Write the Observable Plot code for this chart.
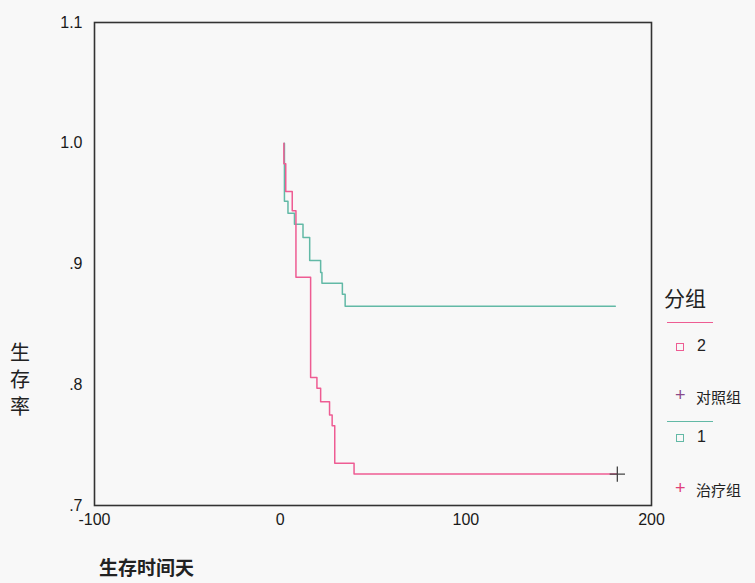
<!DOCTYPE html>
<html><head><meta charset="utf-8">
<script src="https://cdn.jsdelivr.net/npm/d3@7"></script>
<script src="https://cdn.jsdelivr.net/npm/@observablehq/plot@0.6"></script>
<style>
html,body{margin:0;padding:0;background:#f8f8f8;}
#wrap{position:relative;width:755px;height:583px;overflow:hidden;font-family:"Liberation Sans",Arial,sans-serif;}
.abs{position:absolute;white-space:nowrap;color:#222;}
.cjk{font-family:"Noto Sans CJK SC",sans-serif;}
</style></head>
<body><div id="wrap"></div>
<script>
// Group 2 (对照组) Kaplan-Meier steps
const g2Time = [2, 2, 3, 6.5, 8.5, 16.4, 19.8, 21.8, 26.6, 28, 29.4, 39.8, 181.6];
const g2Surv = [1.0, 0.983, 0.96, 0.944, 0.889, 0.806, 0.797, 0.786, 0.775, 0.766, 0.735, 0.726, 0.726];
// Group 1 (治疗组)
const g1Time = [2.3, 2.3, 4.2, 7.7, 12.3, 15.9, 21.8, 22.5, 33.5, 35, 180.5];
const g1Surv = [1.0, 0.952, 0.942, 0.933, 0.922, 0.903, 0.893, 0.884, 0.875, 0.865, 0.865];
// censored marks
const censTime = [181.6];
const censSurv = [0.726];
const xTicks = [-100, 0, 100, 200];
const yTicks = [0.7, 0.8, 0.9, 1.0, 1.1];
const yTickLabels = [".7", ".8", ".9", "1.0", "1.1"];
const colors = {"2": "#ee5c93", "1": "#62b9a6"};

const g2 = g2Time.map((t, i) => ({t, s: g2Surv[i]}));
const g1 = g1Time.map((t, i) => ({t, s: g1Surv[i]}));
const cens = censTime.map((t, i) => ({t, s: censSurv[i]}));

const chart = Plot.plot({
  width: 755, height: 583,
  marginLeft: 94, marginRight: 104, marginTop: 22, marginBottom: 78,
  style: {background: "transparent", fontFamily: "Liberation Sans, Arial, sans-serif", fontSize: "15px", color: "#1a1a1a"},
  x: {domain: [-100, 200]},
  y: {domain: [0.7, 1.1]},
  marks: [
    Plot.axisX({ticks: xTicks, tickSize: 0, tickPadding: 8, label: null, tickFormat: d => String(d), fontSize: 16}),
    Plot.axisY({ticks: yTicks, tickSize: 0, tickPadding: 12, label: null, tickFormat: d => yTickLabels[yTicks.indexOf(d)], fontSize: 16}),
    Plot.line(g1, {x: "t", y: "s", curve: "step-after", stroke: colors["1"], strokeWidth: 1.5}),
    Plot.line(g2, {x: "t", y: "s", curve: "step-after", stroke: colors["2"], strokeWidth: 1.5}),
    Plot.dot(cens, {x: "t", y: "s", symbol: "plus", r: 5, stroke: "#444", strokeWidth: 1.3}),
    Plot.frame({stroke: "#333", strokeWidth: 1.6})
  ]
});
const wrap = document.getElementById("wrap");
wrap.appendChild(chart);

function add(html, css, cls) {
  const d = document.createElement("div");
  d.className = "abs " + (cls || "");
  d.innerHTML = html;
  Object.assign(d.style, css);
  wrap.appendChild(d);
}
// y label, vertical stacked characters
add("生<br>存<br>率", {left: "10px", top: "338px", fontSize: "20px", lineHeight: "27px"}, "cjk");
// x label
add("生存时间天", {left: "99px", top: "555px", fontSize: "19px", lineHeight: "24px", fontWeight: "bold"}, "cjk");
// legend
add("分组", {left: "664px", top: "282px", fontSize: "21px"}, "cjk");
add("", {left: "667px", top: "322px", width: "46px", height: "0", borderTop: "1.5px solid " + colors["2"]});
add("", {left: "676px", top: "343px", width: "6px", height: "6px", border: "1.3px solid " + colors["2"]});
add("2", {left: "697px", top: "337px", fontSize: "16px"});
add("+", {left: "675px", top: "385px", fontSize: "18px", color: "#8a4a8a"});
add("对照组", {left: "696px", top: "386px", fontSize: "15px"}, "cjk");
add("", {left: "667px", top: "421px", width: "46px", height: "0", borderTop: "1.5px solid " + colors["1"]});
add("", {left: "676px", top: "434px", width: "6px", height: "6px", border: "1.3px solid " + colors["1"]});
add("1", {left: "697px", top: "428px", fontSize: "16px"});
add("+", {left: "675px", top: "478px", fontSize: "18px", color: "#e0407a"});
add("治疗组", {left: "696px", top: "479px", fontSize: "15px"}, "cjk");
</script></body></html>
